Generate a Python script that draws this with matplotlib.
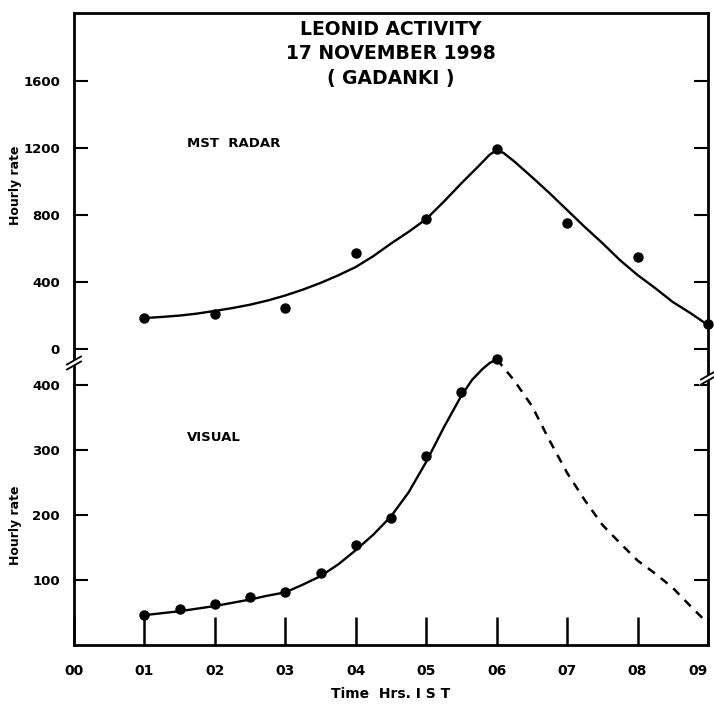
import numpy as np
import matplotlib.pyplot as plt

# MST radar observations (upper panel)
radar_hours = [1, 2, 3, 4, 5, 6, 7, 8, 9]
radar_rate = [185, 209, 245, 573, 776, 1194, 752, 549, 149]

# fitted curve (upper panel)
radar_fit_hours = [1.0, 1.25, 1.5, 1.75, 2.0, 2.25, 2.5, 2.75, 3.0, 3.25, 3.5, 3.75,
                   4.0, 4.25, 4.5, 4.75, 5.0, 5.25, 5.5, 5.75, 5.9, 6.0, 6.1, 6.25,
                   6.5, 6.75, 7.0, 7.25, 7.5, 7.75, 8.0, 8.25, 8.5, 8.75, 9.0]
radar_fit_rate = [185, 192, 200, 212, 228, 245, 265, 290, 320, 355, 395, 440,
                  490, 555, 630, 700, 776, 880, 990, 1095, 1160, 1188, 1170, 1120,
                  1027, 931, 830, 729, 633, 531, 442, 364, 281, 215, 143]

# visual observations (lower panel)
visual_hours = [1, 1.5, 2, 2.5, 3, 3.5, 4, 4.5, 5, 5.5, 6]
visual_rate = [46, 55, 63, 74, 82, 111, 154, 195, 291, 389, 440]

visual_fit_hours = [1.0, 1.25, 1.5, 1.75, 2.0, 2.25, 2.5, 2.75, 3.0, 3.25, 3.5, 3.75,
                    4.0, 4.25, 4.5, 4.75, 5.0, 5.25, 5.5, 5.65, 5.8, 5.9, 6.0]
visual_fit_rate = [46, 49, 52, 56, 60, 65, 70, 76, 81, 93, 106, 124,
                   146, 170, 198, 235, 282, 335, 384, 408, 425, 434, 440]

# extrapolated (dashed) part of the visual curve
visual_ext_hours = [6.0, 6.25, 6.5, 6.75, 7.0, 7.25, 7.5, 7.75, 8.0, 8.25, 8.5, 8.75, 9.0]
visual_ext_rate = [440, 407, 368, 315, 265, 223, 185, 157, 130, 110, 88, 60, 33]

hour_labels = ['00', '01', '02', '03', '04', '05', '06', '07', '08', '09']
radar_ticks = [0, 400, 800, 1200, 1600]
visual_ticks = [100, 200, 300, 400]

W, H = 714, 709
fig = plt.figure(figsize=(W / 100, H / 100), dpi=100)

x0, x1 = 74 / W, 708 / W
y_top, y_mid, y_bot = 1 - 13 / H, 1 - 365 / H, 1 - 645 / H
ax1 = fig.add_axes([x0, y_mid, x1 - x0, y_top - y_mid])
ax2 = fig.add_axes([x0, y_bot, x1 - x0, y_mid - y_bot], sharex=ax1)

lw_sp = 2.0
for ax in (ax1, ax2):
    for s in ax.spines.values():
        s.set_linewidth(lw_sp)
ax1.spines['bottom'].set_visible(False)
ax2.spines['top'].set_visible(False)

# upper panel
ax1.plot(radar_fit_hours, radar_fit_rate, color='black', lw=1.7, clip_on=False)
ax1.plot(radar_hours, radar_rate, 'o', color='black', ms=6.5, clip_on=False)
ax1.set_xlim(0, 9)
ax1.set_ylim(-95, 2006)
ax1.set_yticks(radar_ticks)
ax1.set_yticks([0], minor=True)
ax1.tick_params(axis='y', which='major', direction='in', length=10, width=1.5,
                left=True, right=True, labelsize=9.5, pad=10)
ax1.tick_params(axis='y', which='minor', direction='in', length=32, width=1.5,
                left=True, right=False)
ax1.tick_params(axis='x', bottom=False, labelbottom=False)
ax1.text(1.6, 1230, 'MST  RADAR', fontsize=9.5, fontweight='bold', va='center')

ax1.text(4.5, 1905, 'LEONID ACTIVITY', fontsize=13.5, fontweight='bold',
         ha='center', va='center')
ax1.text(4.5, 1765, '17 NOVEMBER 1998', fontsize=13.5, fontweight='bold',
         ha='center', va='center')
ax1.text(4.5, 1615, '( GADANKI )', fontsize=13.5, fontweight='bold',
         ha='center', va='center')

# lower panel
ax2.plot(visual_fit_hours, visual_fit_rate, color='black', lw=1.7, clip_on=False)
ax2.plot(visual_ext_hours, visual_ext_rate, color='black', lw=1.8,
         ls=(0, (3.5, 3)), clip_on=False)
ax2.plot(visual_hours, visual_rate, 'o', color='black', ms=6.5, clip_on=False)
ax2.set_ylim(0, 431)
ax2.set_yticks(visual_ticks)
ax2.tick_params(axis='y', direction='in', length=10, width=1.5,
                left=True, right=True, labelsize=9.5, pad=10)
ax2.set_xticks(range(len(hour_labels)))
ax2.set_xticklabels(hour_labels)
ax2.tick_params(axis='x', direction='in', length=20, width=1.8, labelsize=10, pad=14)
ax2.get_xticklabels()[-1].set_horizontalalignment('right')
ax2.text(1.6, 320, 'VISUAL', fontsize=9.5, fontweight='bold', va='center')
ax2.set_xlabel('Time  Hrs. I S T', fontsize=10, fontweight='bold', labelpad=6)

for ax in (ax1, ax2):
    for lab in ax.get_xticklabels() + ax.get_yticklabels():
        lab.set_fontweight('bold')

# y labels placed like in the scan
fig.text(15 / W, 1 - 185 / H, 'Hourly rate', rotation=90, fontsize=9,
         fontweight='bold', ha='center', va='center')
fig.text(15 / W, 1 - 525 / H, 'Hourly rate', rotation=90, fontsize=9,
         fontweight='bold', ha='center', va='center')

# axis break marks
def brk(xpx, ypx):
    xf, yf = xpx / W, 1 - ypx / H
    dx, dy = 7 / W, 4 / H
    fig.add_artist(plt.Line2D([xf - dx, xf + dx], [yf - dy, yf + dy],
                              color='white', lw=4))
    for off in (-2.5, 2.5):
        fig.add_artist(plt.Line2D([xf - dx, xf + dx],
                                  [yf - dy + off / H, yf + dy + off / H],
                                  color='black', lw=1.3))

brk(74, 363)
brk(708, 378)

fig.savefig('out.png', dpi=100)
